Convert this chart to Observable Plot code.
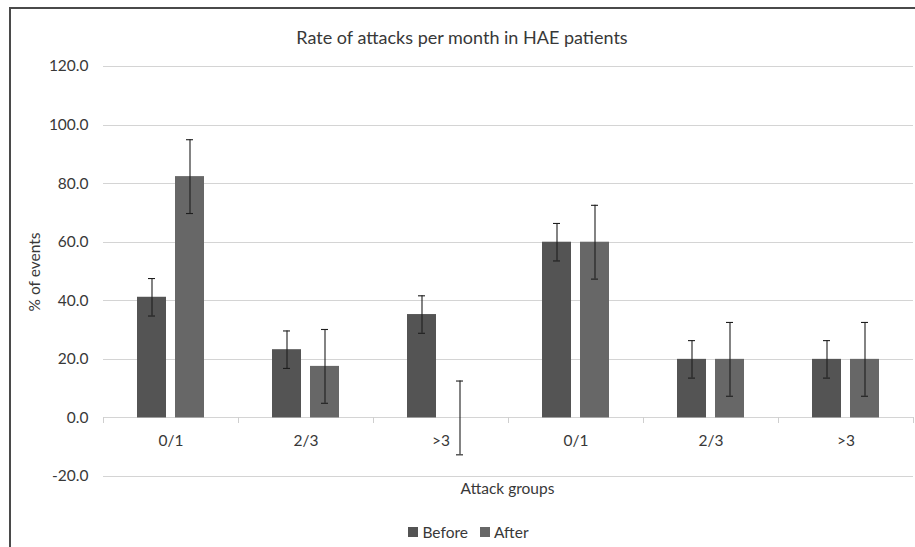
<!DOCTYPE html>
<html>
<head>
<meta charset="utf-8">
<script src="https://cdn.jsdelivr.net/npm/d3@7"></script>
<script src="https://cdn.jsdelivr.net/npm/@observablehq/plot@0.6"></script>
<style>
  html, body { margin: 0; padding: 0; background: #fff; }
  #chart { position: relative; width: 915px; height: 547px; overflow: hidden; background: #fff; font-family: Lato, "Open Sans", sans-serif; color: #383838; }
  #frame { position: absolute; left: 9px; top: 7px; width: 940px; height: 580px; border: 2px solid #4a4a4a; box-sizing: border-box; z-index: 5; }
  #title { position: absolute; left: 9px; width: 906px; top: 26px; text-align: center; font-size: 18px; line-height: 22px; }
  #plot { position: absolute; left: 0; top: 0; }
  #ylabel { position: absolute; left: 34px; top: 272px; transform: translate(-50%, -50%) rotate(-90deg); font-size: 15.5px; white-space: nowrap; line-height: 16px; }
  #xlabel { position: absolute; left: 102px; width: 811px; top: 479px; text-align: center; font-size: 15.5px; line-height: 18px; }
  #legend { position: absolute; left: 0; width: 915px; top: 522px; text-align: center; font-size: 15.5px; line-height: 18px; padding-left: 22px; box-sizing: border-box; }
  #legend span.item { display: inline-flex; align-items: center; margin: 0 6px; }
  #legend span.sw { display: inline-block; width: 10px; height: 10px; margin-right: 4px; }
</style>
</head>
<body>
<div id="chart">
  <div id="frame"></div>
  <div id="title">Rate of attacks per month in HAE patients</div>
  <div id="plot"></div>
  <div id="ylabel">% of events</div>
  <div id="xlabel">Attack groups</div>
  <div id="legend"></div>
</div>
<script>
const categories = ["0/1", "2/3", ">3", "0/1", "2/3", ">3"];
const series = ["Before", "After"];
const beforeValues = [41.2, 23.3, 35.3, 60.0, 20.0, 20.0];
const afterValues = [82.4, 17.6, 0.0, 60.0, 20.0, 20.0];
const beforeErrors = [6.4, 6.4, 6.4, 6.4, 6.4, 6.4];
const afterErrors = [12.6, 12.6, 12.6, 12.6, 12.6, 12.6];
const yTicks = [-20, 0, 20, 40, 60, 80, 100, 120];
const seriesColors = ["#545454", "#676767"];

const rows = categories.flatMap((c, i) => [
  {g: i, cat: c, series: "Before", value: beforeValues[i], err: beforeErrors[i]},
  {g: i, cat: c, series: "After", value: afterValues[i], err: afterErrors[i]}
]);
const groups = categories.map((c, i) => ({g: i, cat: c}));

function separators(index, scales, values, dims) {
  const g = d3.create("svg:g").attr("stroke", "#cfcfcf").attr("shape-rendering", "crispEdges");
  const [x0, x1] = scales.x.range();
  const y0 = scales.y(0);
  for (const xx of [x0, x1]) {
    g.append("line").attr("x1", xx).attr("x2", xx).attr("y1", y0).attr("y2", y0 + 6);
  }
  return g.node();
}

const plot = Plot.plot({
  width: 915,
  height: 547,
  marginTop: 66,
  marginBottom: 71,
  marginLeft: 102,
  marginRight: 2,
  style: {fontFamily: "Lato, sans-serif", fontSize: "15.5px", color: "#383838", background: "transparent"},
  fx: {domain: d3.range(categories.length), padding: 0, axis: null},
  x: {domain: series, paddingInner: 0.23, paddingOuter: 0.85, axis: null},
  y: {domain: [-20, 120], ticks: yTicks, tickFormat: d => d.toFixed(1), tickSize: 0, tickPadding: 15, label: null},
  color: {domain: series, range: seriesColors},
  marks: [
    Plot.ruleY(yTicks, {stroke: "#d4d4d4", strokeWidth: 1, shapeRendering: "crispEdges"}),
    Plot.barY(rows, {fx: "g", x: "series", y: "value", fill: "series"}),
    Plot.ruleX(rows, {fx: "g", x: "series", y1: d => d.value - d.err, y2: d => d.value + d.err, stroke: "#1e1e1e", strokeWidth: 1.1}),
    Plot.tickY(rows, {fx: "g", x: "series", y: d => d.value + d.err, stroke: "#1e1e1e", strokeWidth: 1.1, inset: 11}),
    Plot.tickY(rows, {fx: "g", x: "series", y: d => d.value - d.err, stroke: "#1e1e1e", strokeWidth: 1.1, inset: 11}),
    Plot.text(groups, {fx: "g", y: 0, text: "cat", dy: 23, fontSize: 15.5, fill: "#383838"}),
    separators
  ]
});
document.getElementById("plot").appendChild(plot);

const legend = document.getElementById("legend");
series.forEach((s, i) => {
  const item = document.createElement("span");
  item.className = "item";
  const sw = document.createElement("span");
  sw.className = "sw";
  sw.style.background = seriesColors[i];
  item.appendChild(sw);
  item.appendChild(document.createTextNode(s));
  legend.appendChild(item);
});
</script>
</body>
</html>
